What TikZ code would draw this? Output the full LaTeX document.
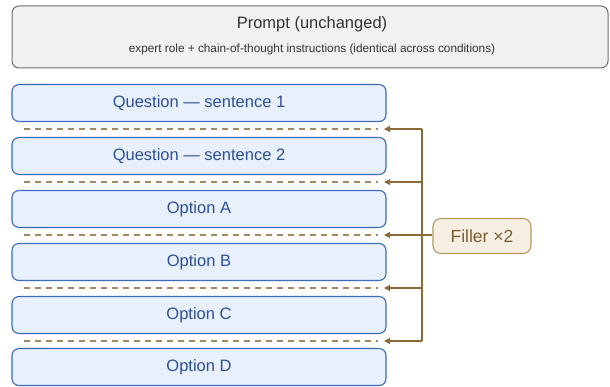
\documentclass[tikz,border=0pt]{standalone}
\usepackage{fontspec}
\setmainfont{Liberation Sans}
\usetikzlibrary{arrows.meta}
\definecolor{qfill}{HTML}{E8F0FC}
\definecolor{qdraw}{HTML}{3A6BBF}
\definecolor{qtext}{HTML}{2C4F96}
\definecolor{pfill}{HTML}{F1F1F1}
\definecolor{pdraw}{HTML}{6E6E6E}
\definecolor{ptext}{HTML}{333333}
\definecolor{gline}{HTML}{8C6A36}
\definecolor{gfill}{HTML}{F5EFE3}
\definecolor{gdraw}{HTML}{B89A62}
\definecolor{gtext}{HTML}{7A5C2E}
\tikzset{
  qbox/.style={draw=qdraw, fill=qfill, line width=1.1pt, rounded corners=7pt,
    minimum width=374pt, minimum height=37pt, inner sep=0pt, text=qtext,
    font=\fontsize{16.5}{19}\selectfont},
  sepline/.style={draw=gline!80, line width=1.3pt, dash pattern=on 6pt off 5pt},
  feed/.style={draw=gline, line width=1.1pt, -{Triangle[length=6pt,width=6pt]}},
}
\begin{document}
\begin{tikzpicture}[x=1pt,y=-1pt]
\useasboundingbox (0,0) rectangle (610,387);
\node[draw=pdraw, fill=pfill, line width=1pt, rounded corners=7pt,
  minimum width=596pt, minimum height=62pt, inner sep=0pt] (prompt) at (310,37) {};
\node[text=ptext, font=\fontsize{16.5}{19}\selectfont] (ptitle) at (312,24) {Prompt (unchanged)};
\node[text=ptext, font=\fontsize{11.8}{14}\selectfont] (psub) at (312,49) {expert role + chain-of-thought instructions (identical across conditions)};
\node[qbox] (q1) at (199,103) {Question — sentence 1};
\node[qbox] (q2) at (199,156) {Question — sentence 2};
\node[qbox] (oa) at (199,209) {Option A};
\node[qbox] (ob) at (199,262) {Option B};
\node[qbox] (oc) at (199,315) {Option C};
\node[qbox] (od) at (199,367) {Option D};
\foreach \n/\y in {1/129,2/182,3/235,4/288,5/341}{
  \coordinate (sl\n) at (24,\y);
  \coordinate (sr\n) at (384,\y);
  \coordinate (b\n) at (422,\y);
  \draw[sepline] (sl\n) -- (378,\y);
}
\node[draw=gdraw, fill=gfill, line width=1.1pt, rounded corners=8pt,
  minimum width=98pt, minimum height=35pt, inner sep=0pt, text=gtext,
  font=\fontsize{17.5}{20}\selectfont] (filler) at (482,236) {Filler ×2};
\draw[gline, line width=1.1pt] (b1) -- (b5);
\draw[gline, line width=1.1pt] (filler.west |- b3) -- (b3);
\foreach \n in {1,...,5}{
  \draw[feed] (b\n) -- (sr\n);
}
\end{tikzpicture}
\end{document}
